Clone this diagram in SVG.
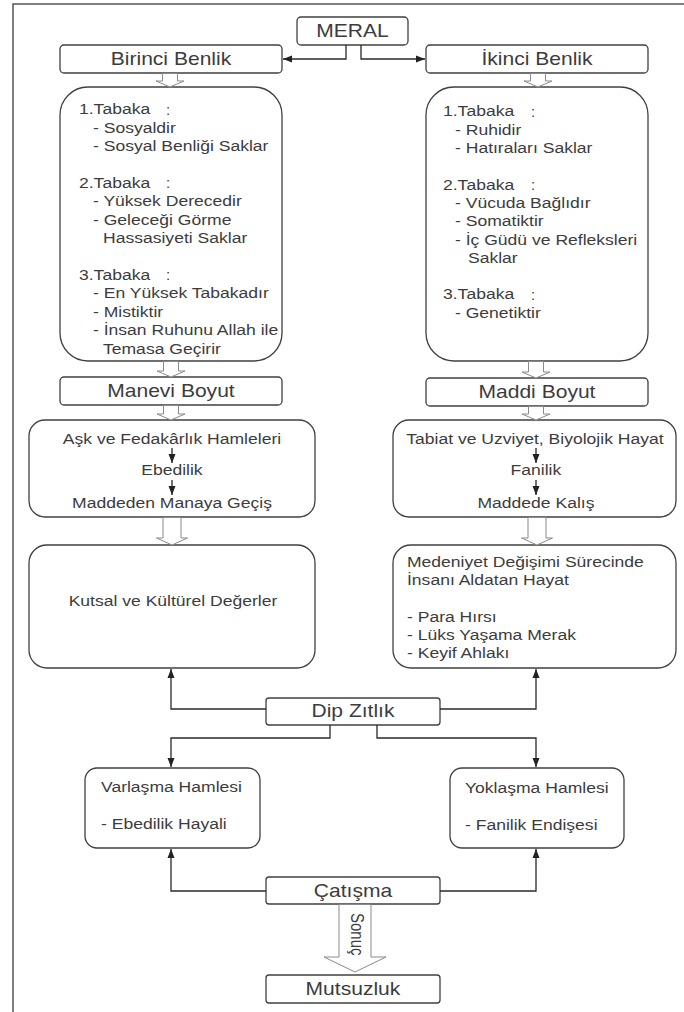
<svg xmlns="http://www.w3.org/2000/svg" width="684" height="1012" viewBox="0 0 684 1012">
<defs>
<style>
.bx{fill:#fff;stroke:#404040;stroke-width:1.3}
.ho{fill:#fff;stroke:#8a8a8a;stroke-width:1}
.ln{fill:none;stroke:#2a2a2a;stroke-width:1.3}
.t{font-family:"Liberation Sans",Arial,sans-serif;font-size:15px;fill:#3c3c3c}
.h{font-size:18px}
.s{transform-box:fill-box;transform-origin:0 50%;transform:scaleX(1.17)}
.m{text-anchor:middle;transform-box:fill-box;transform-origin:50% 50%;transform:scaleX(1.17)}
</style>
<marker id="ah" markerUnits="userSpaceOnUse" markerWidth="10" markerHeight="8" refX="9" refY="4" orient="auto">
<path d="M0,0.5 L9,4 L0,7.5 z" fill="#222"/>
</marker>
</defs>
<rect x="0" y="0" width="684" height="1012" fill="#fff"/>
<g id="frame" stroke="#555" stroke-width="1.5" fill="none">
<path d="M13,1012 V4 H684"/>
</g>

<g id="n-meral">
<rect class="bx" x="297" y="17" width="111" height="28" rx="4"/>
<text class="t h m" x="352.5" y="37.5">MERAL</text>
</g>
<g id="n-birinci">
<rect class="bx" x="60" y="45" width="222" height="28" rx="4"/>
<text class="t h m" x="171" y="65.5">Birinci Benlik</text>
</g>
<g id="n-ikinci">
<rect class="bx" x="426" y="45" width="222" height="28" rx="4"/>
<text class="t h m" x="537" y="65.5">İkinci Benlik</text>
</g>

<g id="n-birinci-tabakalar">
<rect class="bx" x="60" y="87" width="222" height="274" rx="28"/>
<text class="t s" x="79" y="114.5">1.Tabaka</text><text class="t" x="166" y="114.5">:</text>
<text class="t s" x="93" y="132.9">- Sosyaldir</text>
<text class="t s" x="93" y="151.3">- Sosyal Benliği Saklar</text>
<text class="t s" x="79" y="188.1">2.Tabaka</text><text class="t" x="166" y="188.1">:</text>
<text class="t s" x="93" y="206.5">- Yüksek Derecedir</text>
<text class="t s" x="93" y="224.9">- Geleceği Görme</text>
<text class="t s" x="103" y="243.3">Hassasiyeti Saklar</text>
<text class="t s" x="79" y="280.1">3.Tabaka</text><text class="t" x="166" y="280.1">:</text>
<text class="t s" x="93" y="298.5">- En Yüksek Tabakadır</text>
<text class="t s" x="93" y="316.9">- Mistiktir</text>
<text class="t s" x="93" y="335.3">- İnsan Ruhunu Allah ile</text>
<text class="t s" x="103" y="353.7">Temasa Geçirir</text>
</g>

<g id="n-ikinci-tabakalar">
<rect class="bx" x="426" y="87" width="222" height="274" rx="28"/>
<text class="t s" x="443" y="116.5">1.Tabaka</text><text class="t" x="531" y="116.5">:</text>
<text class="t s" x="455" y="134.8">- Ruhidir</text>
<text class="t s" x="455" y="153.1">- Hatıraları Saklar</text>
<text class="t s" x="443" y="189.7">2.Tabaka</text><text class="t" x="531" y="189.7">:</text>
<text class="t s" x="455" y="208">- Vücuda Bağlıdır</text>
<text class="t s" x="455" y="226.3">- Somatiktir</text>
<text class="t s" x="455" y="244.6">- İç Güdü ve Refleksleri</text>
<text class="t s" x="468" y="262.9">Saklar</text>
<text class="t s" x="443" y="299.5">3.Tabaka</text><text class="t" x="531" y="299.5">:</text>
<text class="t s" x="455" y="317.8">- Genetiktir</text>
</g>

<g id="n-manevi">
<rect class="bx" x="60" y="377" width="222" height="28" rx="4"/>
<text class="t h m" x="171" y="397.5">Manevi Boyut</text>
</g>
<g id="n-maddi">
<rect class="bx" x="426" y="378" width="222" height="28" rx="4"/>
<text class="t h m" x="537" y="398.5">Maddi Boyut</text>
</g>

<g id="n-ask">
<rect class="bx" x="29" y="420" width="286" height="97" rx="16"/>
<text class="t m" x="172" y="443.5">Aşk ve Fedakârlık Hamleleri</text>
<text class="t m" x="172" y="475.5">Ebedilik</text>
<text class="t m" x="172" y="508.5">Maddeden Manaya Geçiş</text>
</g>
<g id="n-tabiat">
<rect class="bx" x="393" y="420" width="283" height="97" rx="16"/>
<text class="t m" x="535" y="443.5">Tabiat ve Uzviyet, Biyolojik Hayat</text>
<text class="t m" x="536" y="475.5">Fanilik</text>
<text class="t m" x="536" y="508.5">Maddede Kalış</text>
</g>

<g id="n-kutsal">
<rect class="bx" x="29" y="545" width="286" height="123" rx="18"/>
<text class="t m" x="173" y="606.5">Kutsal ve Kültürel Değerler</text>
</g>
<g id="n-medeniyet">
<rect class="bx" x="393" y="545" width="283" height="123" rx="18"/>
<text class="t s" x="407" y="567.5">Medeniyet Değişimi Sürecinde</text>
<text class="t s" x="407" y="585.5">İnsanı Aldatan Hayat</text>
<text class="t s" x="407" y="622.5">- Para Hırsı</text>
<text class="t s" x="407" y="640.5">- Lüks Yaşama Merak</text>
<text class="t s" x="407" y="658.5">- Keyif Ahlakı</text>
</g>

<g id="n-dip">
<rect class="bx" x="266" y="698" width="174" height="27" rx="3"/>
<text class="t h m" x="353" y="717">Dip Zıtlık</text>
</g>
<g id="n-varlasma">
<rect class="bx" x="85" y="768" width="175" height="80" rx="12"/>
<text class="t s" x="101" y="792.5">Varlaşma Hamlesi</text>
<text class="t s" x="101" y="829.5">- Ebedilik Hayali</text>
</g>
<g id="n-yoklasma">
<rect class="bx" x="450" y="768" width="174" height="80" rx="12"/>
<text class="t s" x="465" y="793">Yoklaşma Hamlesi</text>
<text class="t s" x="465" y="830">- Fanilik Endişesi</text>
</g>
<g id="n-catisma">
<rect class="bx" x="266" y="877" width="174" height="27" rx="3"/>
<text class="t h m" x="353" y="897">Çatışma</text>
</g>
<g id="n-mutsuzluk">
<rect class="bx" x="266" y="975" width="174" height="28" rx="3"/>
<text class="t h m" x="353" y="995.5">Mutsuzluk</text>
</g>

<g id="connectors">
<path class="ln" d="M346,45 V59 H283" marker-end="url(#ah)"/>
<path class="ln" d="M361,45 V59 H425" marker-end="url(#ah)"/>
<path class="ln" d="M172,448 V463" marker-end="url(#ah)"/>
<path class="ln" d="M172,480 V495" marker-end="url(#ah)"/>
<path class="ln" d="M536,448 V463" marker-end="url(#ah)"/>
<path class="ln" d="M536,480 V495" marker-end="url(#ah)"/>
<path class="ln" d="M266,709 H171 V669" marker-end="url(#ah)"/>
<path class="ln" d="M440,709 H536 V669" marker-end="url(#ah)"/>
<path class="ln" d="M330,725 V738 H171 V767" marker-end="url(#ah)"/>
<path class="ln" d="M377,725 V738 H536 V767" marker-end="url(#ah)"/>
<path class="ln" d="M266,891 H171 V849" marker-end="url(#ah)"/>
<path class="ln" d="M440,891 H536 V849" marker-end="url(#ah)"/>
<polygon class="ho" points="162.5,73.5 162.5,81 156,81 170,87 184,81 177.5,81 177.5,73.5"/>
<polygon class="ho" points="530.5,73.5 530.5,81 524,81 538,87 552,81 545.5,81 545.5,73.5"/>
<polygon class="ho" points="163.5,361.5 163.5,371 157,371 171,377 185,371 178.5,371 178.5,361.5"/>
<polygon class="ho" points="163.5,405.5 163.5,414 157,414 171,420 185,414 178.5,414 178.5,405.5"/>
<polygon class="ho" points="528.5,361.5 528.5,372 522,372 536,378 550,372 543.5,372 543.5,361.5"/>
<polygon class="ho" points="528.5,406.5 528.5,414 522,414 536,420 550,414 543.5,414 543.5,406.5"/>
<polygon class="ho" points="163,517.5 163,538 156.5,538 172,545 187.5,538 181,538 181,517.5"/>
<polygon class="ho" points="528,517.5 528,538 521.5,538 537,545 552.5,538 546,538 546,517.5"/>
<polygon class="ho" points="339,904.5 339,957 324,957 355,972 386,957 371,957 371,904.5"/>
<text class="t" font-size="17" transform="translate(351,913) scale(1.17,1) rotate(90)">Sonuç</text>
</g>
</svg>
